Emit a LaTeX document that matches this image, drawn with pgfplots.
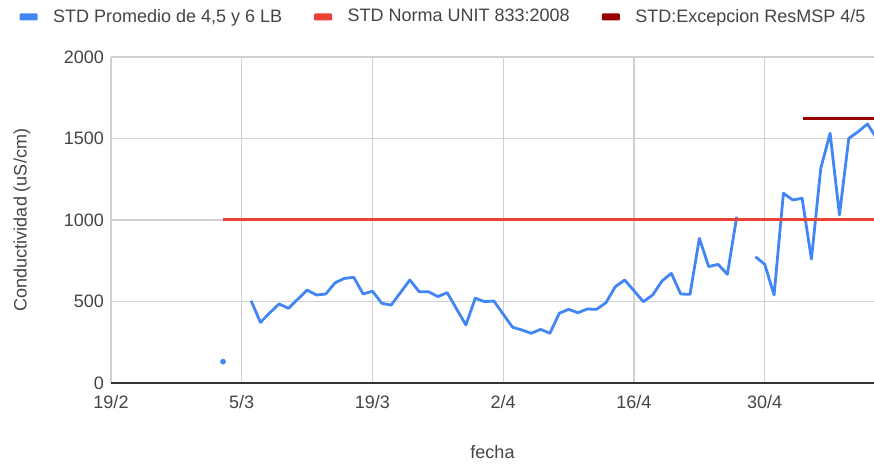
\documentclass[border=0pt]{standalone}
\usepackage{fontspec}
\setmainfont{Liberation Sans}
\usepackage{pgfplots}
\pgfplotsset{compat=1.18}

\definecolor{gblue}{HTML}{4285F4}
\definecolor{gred}{HTML}{EA4335}
\definecolor{gdark}{HTML}{990000}
\definecolor{gridgray}{HTML}{D0D0D0}
\definecolor{axisgray}{HTML}{333333}
\definecolor{txt}{HTML}{444444}

% blue series: day 0 = 19/2
\pgfplotstableread{
day val
15 505
16 372
17 430
18 485
19 458
20 514
21 570
22 540
23 546
24 615
25 642
26 648
27 546
28 563
29 489
30 478
31 555
32 632
33 560
34 560
35 530
36 554
37 455
38 356
39 520
40 499
41 503
42 422
43 342
44 325
45 305
46 329
47 305
48 428
49 452
50 431
51 454
52 452
53 493
54 591
55 632
56 566
57 499
58 540
59 626
60 673
61 546
62 544
63 888
64 714
65 728
66 667
67 1020
68 nan
69 775
70 728
71 540
72 1164
73 1123
74 1133
75 760
76 1317
77 1532
78 1031
79 1501
80 1542
81 1589
82 1500
}\promedio

\begin{document}
\fontsize{18bp}{21bp}\selectfont
\begin{tikzpicture}
\path[use as bounding box] (-111bp,-82bp) rectangle (763bp,383bp);
\begin{axis}[
    scale only axis,
    width=763bp, height=326bp,
    xmin=0, xmax=81.7,
    ymin=0, ymax=2000,
    xtick={0,14,28,42,56,70},
    xticklabels={19/2,5/3,19/3,2/4,16/4,30/4},
    ytick={0,500,1000,1500,2000},
    /pgf/number format/assume math mode=true,
    /pgf/number format/1000 sep={},
    major tick length=0pt,
    axis lines*=left,
    y axis line style={draw=none},
    x axis line style={draw=axisgray, line width=1.5bp, -},
    grid=major,
    major grid style={draw=gridgray, line width=1.2bp},
    tick label style={text=txt},
    xticklabel style={yshift=-6bp},
    yticklabel style={xshift=-1bp},
    every axis y label/.style={at={(axis description cs:-0.1166,0.5)}, rotate=90, anchor=center, text=txt},
    every axis x label/.style={at={(axis description cs:0.5,-0.2117)}, anchor=center, text=txt},
    ylabel={Conductividad (uS/cm)},
    xlabel={fecha},
    legend columns=-1,
    legend style={at={(-0.1199,1.1227)}, anchor=west, draw=none, fill=none,
        inner sep=0pt, text=txt,
        /tikz/every even column/.append style={column sep=30bp}},
    legend image code/.code={\fill[#1, draw=none, rounded corners=1bp] (0bp,-3.5bp) rectangle (18bp,3.5bp); \path (30bp,0bp);},
]
\addplot[color=gblue, line width=2.8bp, line join=round, unbounded coords=jump] table[x=day, y=val] {\promedio};
\addplot[color=gblue, only marks, mark=*, mark size=2.6bp, forget plot] coordinates {(12,131)};
\addplot[color=gred, line width=3bp] coordinates {(12,1000) (82,1000)};
\addplot[color=gdark, line width=3bp] coordinates {(74.05,1622) (82,1622)};
\legend{STD Promedio de 4{,}5 y 6 LB, STD Norma UNIT 833:2008, STD:Excepcion ResMSP 4/5}
\end{axis}
\end{tikzpicture}
\end{document}
